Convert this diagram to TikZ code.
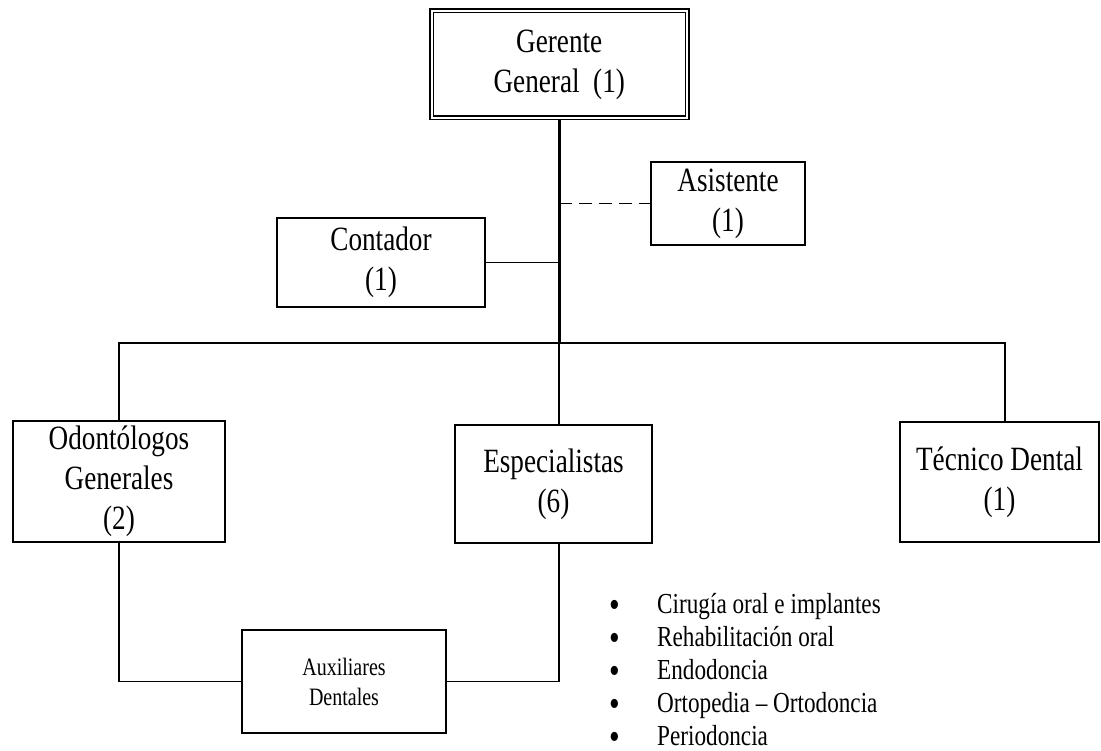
\documentclass[tikz,border=0pt]{standalone}
\usepackage{fontspec}
\setmainfont{Liberation Serif}[FakeStretch=0.8]
\begin{document}
\begin{tikzpicture}[x=1pt,y=-1pt,
  box/.style={draw,line width=1.8pt,rectangle,inner sep=0pt,align=center,
    font=\fontsize{34}{40}\selectfont},
  conn/.style={line width=1.8pt},
  trunk/.style={line width=3pt},
  dashconn/.style={line width=1.8pt,dash pattern=on 13pt off 7pt},
  item/.style={anchor=base west,inner sep=0pt,font=\fontsize{29}{33}\selectfont},
  bul/.style={anchor=base west,inner sep=0pt,font=\fontsize{38}{38}\selectfont}]
\useasboundingbox (0,0) rectangle (1101,751);
% boxes
\node[box,double,double distance=2pt,line width=1.5pt,minimum width=255.5pt,minimum height=107pt] (ger) at (559.25,64.5) {Gerente\\General\ \ (1)};
\node[box,minimum width=154pt,minimum height=83pt] (asi) at (728,203.5) {Asistente\\(1)};
\node[box,minimum width=208pt,minimum height=89pt] (con) at (381,262.5) {Contador\\(1)};
\node[box,minimum width=212pt,minimum height=121pt] (odo) at (119,481.5) {Odontólogos\\Generales\\(2)};
\node[box,minimum width=197pt,minimum height=118pt] (esp) at (553.5,484) {Especialistas\\(6)};
\node[box,minimum width=199pt,minimum height=120pt] (tec) at (999.5,482) {Técnico Dental\\(1)};
\node[box,minimum width=204pt,minimum height=103pt,font=\fontsize{25}{30}\selectfont] (aux) at (344,681.5) {Auxiliares\\Dentales};
% coordinates
\coordinate (t) at (559,343);
\coordinate (busL) at (119,343);
\coordinate (busR) at (1005,343);
\coordinate (dsh) at (559,203.5);
\coordinate (cj) at (559,262.5);
% connectors
\draw[trunk] (ger.south -| t) -- (t);
\draw[dashconn] (dsh) -- (asi.west);
\draw[conn] (con.east) -- (cj);
\draw[conn] (odo.north) -- (busL) -- (busR) -- (busR |- tec.north);
\draw[conn] (t) -- (t |- esp.north);
\draw[conn] (odo.south) |- (aux.west);
\draw[conn] (aux.east) -| (esp.south -| t);
% list
\foreach \i/\txt/\yy in {1/Cirugía oral e implantes/613,2/Rehabilitación oral/646,3/Endodoncia/679,4/Ortopedia – Ortodoncia/712,5/Periodoncia/745}{
  \node[bul] (b\i) at (609,\yy+4) {\smash{•}};
  \node[item] (l\i) at (657,\yy) {\txt};
}
\end{tikzpicture}
\end{document}
